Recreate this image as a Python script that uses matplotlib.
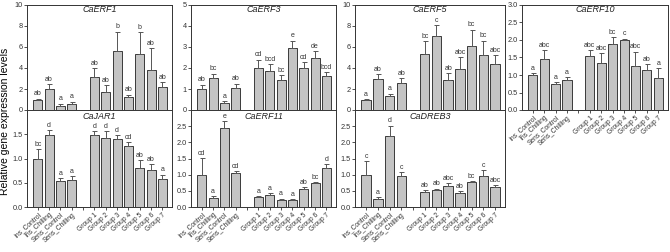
import matplotlib
matplotlib.use("Agg")
import matplotlib.pyplot as plt
import numpy as np

plt.rcParams['font.family'] = ['Liberation Sans', 'DejaVu Sans']

categories = ["Ins_Control", "Ins_Chilling", "Sens_Control", "Sens_Chilling", "",
              "Group 1", "Group 2", "Group 3", "Group 4", "Group 5", "Group 6", "Group 7"]

# values for the 11 bars (4 lines + 7 groups)
erf1_val = [1.0, 2.0, 0.4, 0.6, 3.13, 1.72, 5.58, 1.25, 5.3, 3.79, 2.19]
erf1_err = [0.08, 0.45, 0.2, 0.2, 0.87, 0.68, 1.88, 0.22, 2.13, 2.13, 0.44]
erf1_lab = ["ab", "ab", "a", "a", "ab", "ab", "b", "ab", "b", "ab", "ab"]

erf3_val = [0.99, 1.5, 0.32, 1.07, 2.02, 1.88, 1.42, 2.95, 2.02, 2.48, 1.64]
erf3_err = [0.22, 0.23, 0.11, 0.19, 0.38, 0.30, 0.25, 0.35, 0.25, 0.31, 0.17]
erf3_lab = ["ab", "bc", "a", "ab", "cd", "bcd", "bc", "e", "cd", "de", "bcd"]

erf5_val = [1.0, 2.98, 1.32, 2.6, 5.3, 7.02, 2.85, 3.86, 6.08, 5.24, 4.42]
erf5_err = [0.07, 0.47, 0.25, 0.44, 1.28, 1.04, 0.66, 1.16, 1.57, 1.37, 0.78]
erf5_lab = ["a", "ab", "a", "ab", "bc", "c", "ab", "abc", "bc", "bc", "abc"]

erf10_val = [0.99, 1.47, 0.73, 0.85, 1.55, 1.33, 1.88, 2.0, 1.25, 1.14, 0.92]
erf10_err = [0.07, 0.25, 0.06, 0.08, 0.15, 0.29, 0.20, 0.04, 0.42, 0.17, 0.28]
erf10_lab = ["a", "abc", "a", "a", "abc", "abc", "bc", "c", "abc", "ab", "a"]

jar1_val = [1.0, 1.48, 0.54, 0.56, 1.48, 1.43, 1.41, 1.25, 0.8, 0.76, 0.57]
jar1_err = [0.19, 0.11, 0.06, 0.07, 0.08, 0.13, 0.07, 0.09, 0.17, 0.12, 0.10]
jar1_lab = ["bc", "d", "a", "a", "d", "d", "d", "cd", "ab", "ab", "a"]

erf11_val = [1.0, 0.29, 2.43, 1.04, 0.3, 0.38, 0.23, 0.22, 0.56, 0.75, 1.21]
erf11_err = [0.51, 0.06, 0.24, 0.07, 0.04, 0.04, 0.03, 0.03, 0.06, 0.03, 0.11]
erf11_lab = ["cd", "a", "e", "cd", "a", "a", "a", "a", "ab", "bc", "d"]

dreb3_val = [1.0, 0.25, 2.21, 0.97, 0.47, 0.53, 0.64, 0.42, 0.76, 0.97, 0.62]
dreb3_err = [0.41, 0.05, 0.31, 0.11, 0.06, 0.04, 0.11, 0.06, 0.04, 0.16, 0.07]
dreb3_lab = ["c", "a", "d", "c", "ab", "ab", "abc", "ab", "bc", "c", "abc"]

positions = [0, 1, 2, 3, 5, 6, 7, 8, 9, 10, 11]

W, H = 670, 252
fig = plt.figure(figsize=(W / 100, H / 100), dpi=100)

def ax_at(x0, x1, ytop, ybot):
    return fig.add_axes([x0 / W, 1 - ybot / H, (x1 - x0) / W, (ybot - ytop) / H])

cols = [(27, 172), (191, 336), (355, 505), (522, 668)]
top_rows = (5, 110)
bot_rows = (110, 207)

panels = [
    ("CaERF1", erf1_val, erf1_err, erf1_lab, 10, [0, 2, 4, 6, 8, 10], ["0", "2", "4", "6", "8", "10"], 0, 0, False),
    ("CaERF3", erf3_val, erf3_err, erf3_lab, 5, [0, 1, 2, 3, 4, 5], ["0", "1", "2", "3", "4", "5"], 0, 1, False),
    ("CaERF5", erf5_val, erf5_err, erf5_lab, 10, [0, 2, 4, 6, 8, 10], ["0", "2", "4", "6", "8", "10"], 0, 2, False),
    ("CaERF10", erf10_val, erf10_err, erf10_lab, 3.0, [0, 0.5, 1, 1.5, 2, 2.5, 3], ["0.0", "0.5", "1.0", "1.5", "2.0", "2.5", "3.0"], 0, 3, True),
    ("CaJAR1", jar1_val, jar1_err, jar1_lab, 2.0, [0, 0.5, 1, 1.5], ["0.0", "0.5", "1.0", "1.5"], 1, 0, True),
    ("CaERF11", erf11_val, erf11_err, erf11_lab, 3.0, [0, 0.5, 1, 1.5, 2, 2.5], ["0.0", "0.5", "1.0", "1.5", "2.0", "2.5"], 1, 1, True),
    ("CaDREB3", dreb3_val, dreb3_err, dreb3_lab, 3.0, [0, 0.5, 1, 1.5, 2, 2.5], ["0.0", "0.5", "1.0", "1.5", "2.0", "2.5"], 1, 2, True),
]

bar_color = "#c4c4c4"
edge = "#3a3a3a"

for title, vals, errs, labs, ymax, yt, ytl, row, col, showx in panels:
    x0, x1 = cols[col]
    yt0, yb0 = top_rows if row == 0 else bot_rows
    ax = ax_at(x0, x1, yt0, yb0)
    ax.bar(positions, vals, width=0.8, color=bar_color, edgecolor=edge, linewidth=0.7, zorder=2)
    ax.errorbar(positions, vals, yerr=[np.zeros(len(errs)), errs], fmt='none',
                ecolor="#555555", elinewidth=0.7, capsize=1.8, capthick=0.7, zorder=3)
    for p, v, e, l in zip(positions, vals, errs, labs):
        ax.text(p, v + e + ymax * 0.012, l, ha='center', va='bottom', fontsize=5, color="#333333")
    ax.set_xlim(-0.95, 11.85)
    ax.set_ylim(0, ymax)
    ax.set_yticks(yt)
    ax.set_yticklabels(ytl)
    ax.tick_params(axis='y', labelsize=5.3, length=2, width=0.6, pad=1.2, colors="#333333")
    ty = 0.955 if row == 0 else 0.93
    ax.text(0.5, ty, title, transform=ax.transAxes, fontsize=6.5, style='italic',
            ha='center', va='center', color="#222222")
    for s in ax.spines.values():
        s.set_linewidth(0.7)
        s.set_color("#333333")
    if showx:
        ax.set_xticks(range(12))
        ax.set_xticklabels(categories, rotation=42, ha='right', rotation_mode='anchor', fontsize=4.8)
        ax.tick_params(axis='x', length=2, width=0.6, pad=1, colors="#333333")
    else:
        ax.set_xticks([])

fig.text(5 / W, 0.52, "Relative gene expression levels", rotation=90, ha='center', va='center', fontsize=7.5)

fig.savefig("out.png", dpi=100)
